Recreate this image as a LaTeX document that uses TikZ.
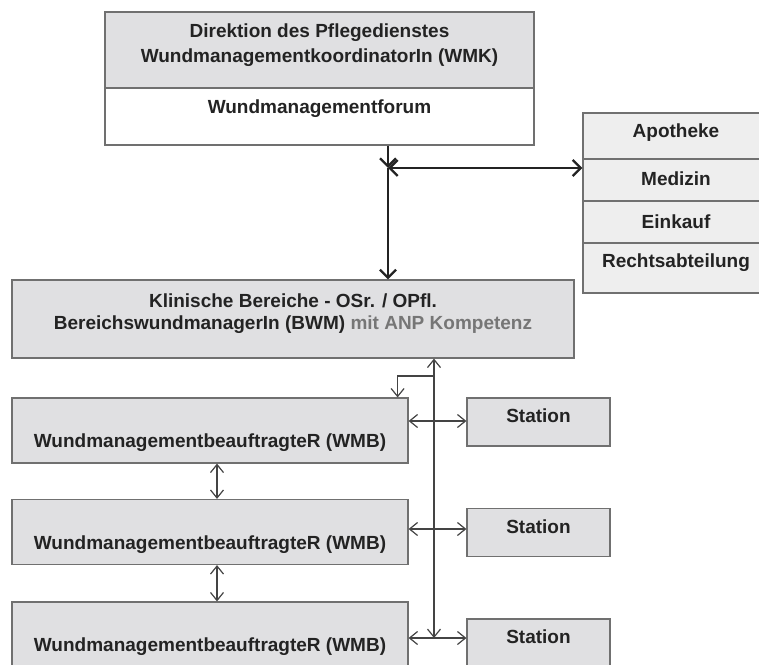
\documentclass[tikz,border=0pt]{standalone}
\usepackage{fontspec}
\setmainfont{Liberation Sans}
\usetikzlibrary{arrows.meta}
\definecolor{boxfill}{RGB}{224,224,226}
\definecolor{stackfill}{RGB}{238,238,238}
\definecolor{boxline}{RGB}{112,112,112}
\definecolor{ink}{RGB}{35,35,35}
\definecolor{anpgray}{RGB}{118,118,118}
\tikzset{
  orgbox/.style={draw=boxline,line width=1.2pt,fill=boxfill,inner sep=0pt,text=ink,
    font=\bfseries\fontsize{19}{22}\selectfont,align=center},
  wmbbox/.style={orgbox,minimum width=396pt,text height=38pt,text depth=4pt},
  stationbox/.style={orgbox,minimum width=143pt,minimum height=48pt,text depth=12pt},
  stackbox/.style={orgbox,fill=stackfill,minimum width=186pt},
  bigarrow/.style={draw=ink,line width=2.4pt,>={Straight Barb[length=8pt,width=16pt]}},
  smallarrow/.style={draw=ink!85,line width=1.2pt,>={Straight Barb[length=8pt,width=13pt]}}
}
\begin{document}
\begin{tikzpicture}[x=1pt,y=-1pt]
\useasboundingbox (0,0) rectangle (759,664);
\clip (0,0) rectangle (759,664);
\node[orgbox,minimum width=429pt,minimum height=76pt,text depth=14.6pt,font=\bfseries\fontsize{19}{25}\selectfont] (dir) at (319.5,50) {Direktion des Pflegedienstes\\WundmanagementkoordinatorIn (WMK)};
\node[orgbox,fill=white,minimum width=429pt,minimum height=57pt,text depth=19pt] (forum) at (319.5,116.5) {Wundmanagementforum};
\foreach \n/\t/\c/\h/\d in {apo/Apotheke/136/46/11.6,med/Medizin/180/42/3.6,ein/Einkauf/222/42/1.6,recht/Rechtsabteilung/268/50/15.6}
  \node[stackbox,minimum height=\h pt,text depth=\d pt] (\n) at (676,\c) {\t};
\node[orgbox,minimum width=562pt,minimum height=78pt,text depth=15.6pt] (mid) at (293,319) {Klinische Bereiche - OSr. / OPfl.\\BereichswundmanagerIn (BWM) \textcolor{anpgray}{mit ANP Kompetenz}};
\foreach \i/\yw/\ys/\ya in {1/430.5/422/421,2/532/532.5/529,3/634.5/643/638}{
  \node[wmbbox,minimum height=65pt] (w\i) at (210,\yw) {WundmanagementbeauftragteR (WMB)};
  \node[stationbox] (s\i) at (538.5,\ys) {Station};
  \coordinate (a\i) at (434,\ya);
  \draw[smallarrow,<->] (w\i.east |- a\i) -- (s\i.west |- a\i);
}
\coordinate (j) at (388,168);
\draw[bigarrow,->] (j |- forum.south) -- (j);
\draw[bigarrow,<->] (j) -- (j -| apo.west);
\draw[bigarrow,->] (j) -- (j |- mid.north);
\draw[smallarrow,<->] (a1 |- mid.south) -- (a3);
\coordinate (e) at (434,376);
\draw[smallarrow,->] (e) -| ([xshift=-11pt]w1.north east);
\foreach \i/\j in {1/2,2/3}
  \draw[smallarrow,<->] ([xshift=7pt]w\i.south) -- ([xshift=7pt]w\j.north);
\end{tikzpicture}
\end{document}
